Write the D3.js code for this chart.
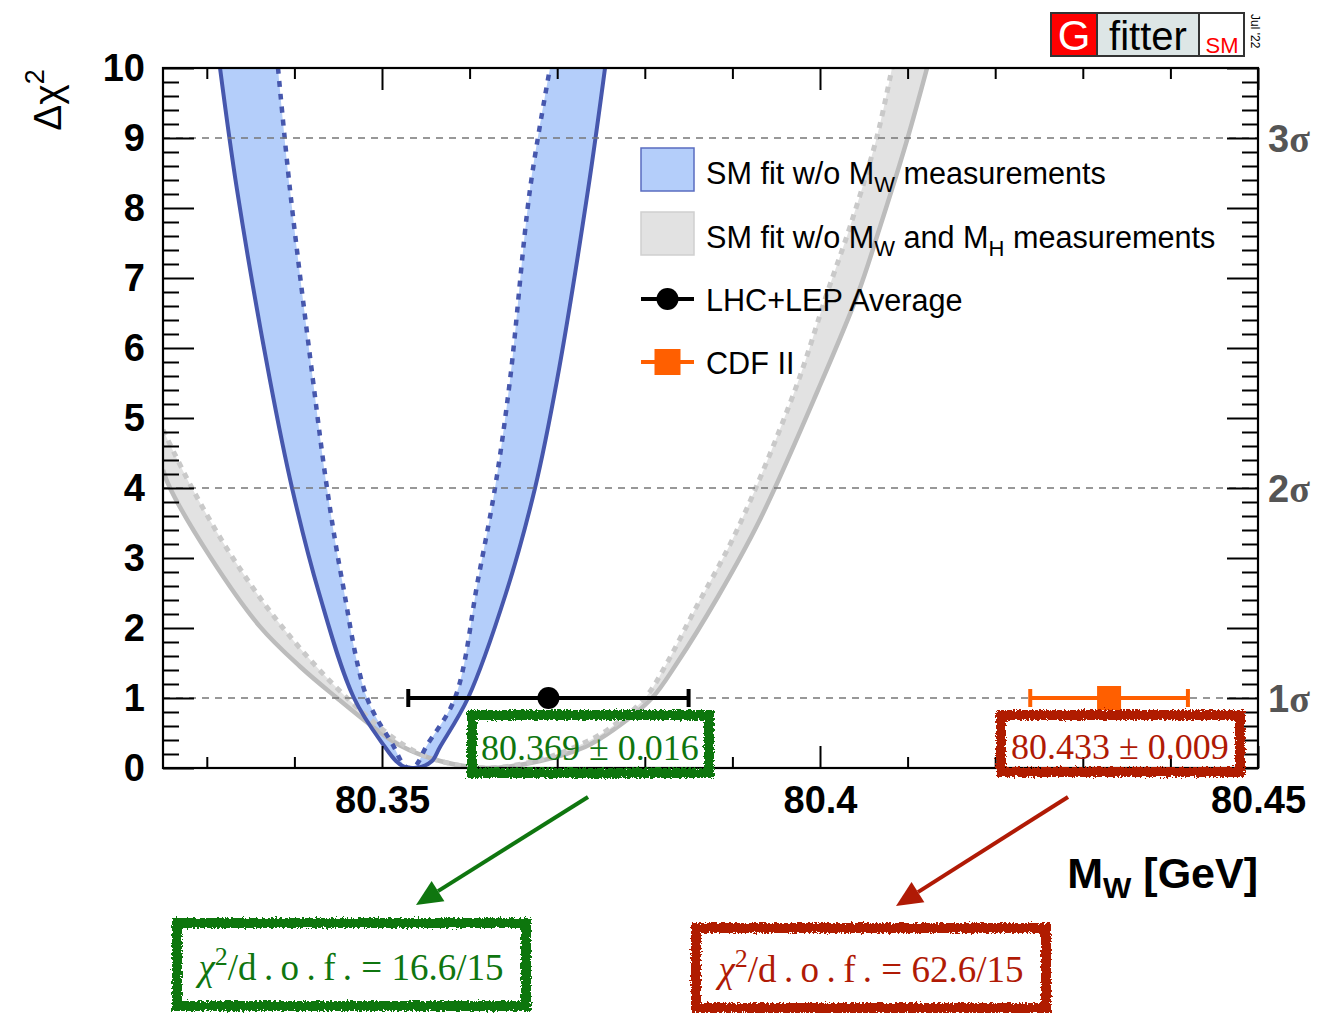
<!DOCTYPE html>
<html>
<head>
<meta charset="utf-8">
<script src="https://cdn.jsdelivr.net/npm/d3@7"></script>
<style>
  body { margin: 0; background: #fff; }
  svg { display: block; }
</style>
</head>
<body>
<svg id="chart" width="1319" height="1013"></svg>
<script>
// ---- Δχ² profiles as a function of M_W (GeV) ----

// SM fit without M_W measurements: outer (solid) profile
const blueSolidMW   = [80.33151, 80.33345, 80.33721, 80.33973, 80.34281, 80.34680, 80.35034, 80.35160, 80.35251, 80.35354,
                       80.35457, 80.35571, 80.35662, 80.35982, 80.36416, 80.36747, 80.36998, 80.37352, 80.37546];
const blueSolidChi2 = [10.0, 8.26, 5.54, 4.0, 2.5, 1.0, 0.3, 0.1, 0.02, 0.0,
                       0.02, 0.1, 0.3, 1.0, 2.5, 4.0, 5.54, 8.26, 10.0];

// SM fit without M_W measurements: inner (dotted) profile
const blueDotMW   = [80.33813, 80.33950, 80.34212, 80.34372, 80.34543, 80.34829, 80.35137, 80.35217, 80.35263, 80.35320,
                     80.35377, 80.35422, 80.35502, 80.35833, 80.36096, 80.36290, 80.36461, 80.36689, 80.36918];
const blueDotChi2 = [10.0, 8.26, 5.54, 4.0, 2.69, 1.0, 0.3, 0.1, 0.025, 0.0,
                     0.025, 0.1, 0.3, 1.0, 2.69, 4.0, 5.54, 8.26, 10.0];

// SM fit without M_W and M_H measurements: outer (solid) profile
const graySolidMW   = [80.32500, 80.32580, 80.33037, 80.33607, 80.34064, 80.34486, 80.34863, 80.35206, 80.35662,
                       80.36199, 80.36804, 80.37317, 80.37637, 80.38082, 80.38368, 80.38836, 80.39315, 80.39977,
                       80.40434, 80.40685, 80.41005, 80.41222];
const graySolidChi2 = [4.26, 4.0, 3.02, 2.02, 1.45, 1.0, 0.62, 0.32, 0.1,
                       0.0, 0.1, 0.3, 0.54, 1.0, 1.5, 2.45, 3.55, 5.4,
                       6.78, 7.73, 9.02, 10.0];

// SM fit without M_W and M_H measurements: inner (dotted) profile
const grayDotMW   = [80.32500, 80.32831, 80.33288, 80.33858, 80.34601, 80.35285, 80.35719, 80.36199,
                     80.36747, 80.37203, 80.37569, 80.38002, 80.38253, 80.38550, 80.39053, 80.39715,
                     80.40080, 80.40342, 80.40651, 80.40822];
const grayDotChi2 = [4.83, 4.0, 3.02, 2.02, 1.0, 0.3, 0.08, 0.0,
                     0.1, 0.3, 0.54, 1.0, 1.5, 2.21, 3.4, 5.4,
                     6.78, 7.73, 9.02, 10.0];

// Direct measurements
const measNames  = ["LHC+LEP Average", "CDF II"];
const measValues = [80.369, 80.433];
const measErrors = [0.016, 0.009];
const measLabels = ["80.369 \u00b1 0.016", "80.433 \u00b1 0.009"];
const chi2Ndf    = ["16.6/15", "62.6/15"];

// Axis ticks and labels
const xMajorTicks  = [80.35, 80.40, 80.45];
const xTickLabels  = ["80.35", "80.4", "80.45"];
const xMinorTicks  = [80.33, 80.34, 80.36, 80.37, 80.38, 80.39, 80.41, 80.42, 80.43, 80.44];
const yMajorTicks  = [0, 1, 2, 3, 4, 5, 6, 7, 8, 9, 10];
const yMinorTicks  = d3.range(0, 50).map(i => i / 5).filter(v => v % 1 !== 0);
const sigmaLevels  = [1, 4, 9];
const sigmaNames   = ["1", "2", "3"];

// ---- layout ----
const svg = d3.select("#chart");
const X0 = 163, X1 = 1258, Y0 = 68, Y1 = 768;
const x = d3.scaleLinear().domain([80.325, 80.45]).range([X0, X1]);
const y = d3.scaleLinear().domain([0, 10]).range([Y1, Y0]);

const SANS = "'Liberation Sans', Arial, Helvetica, sans-serif";
const SERIF = "'Liberation Serif', 'Times New Roman', serif";

const BLUE_FILL = "#b4cefa", BLUE_LINE = "#4657ad";
const GRAY_FILL = "#e2e2e2", GRAY_LINE = "#bcbcbc", GRAY_DOT = "#c9c9c9";
const GREEN = "#0f760f", RED = "#b01a05", ORANGE = "#ff5f00";

svg.append("rect").attr("width", 1319).attr("height", 1013).attr("fill", "#fff");

const defs = svg.append("defs");
defs.append("clipPath").attr("id", "plotClip")
  .append("rect").attr("x", X0).attr("y", Y0).attr("width", X1 - X0).attr("height", Y1 - Y0);

// rough chalk-like border for the annotation boxes
const rough = defs.append("filter").attr("id", "rough")
  .attr("x", "-10%").attr("y", "-30%").attr("width", "120%").attr("height", "160%");
rough.append("feTurbulence").attr("type", "fractalNoise").attr("baseFrequency", 0.45)
  .attr("numOctaves", 3).attr("seed", 7).attr("result", "noise");
rough.append("feDisplacementMap").attr("in", "SourceGraphic").attr("in2", "noise")
  .attr("scale", 6).attr("xChannelSelector", "R").attr("yChannelSelector", "G");

const zip = (xs, ys) => xs.map((v, i) => [v, ys[i]]);
const line = d3.line().x(d => x(d[0])).y(d => y(d[1])).curve(d3.curveCatmullRom.alpha(0.5));

function bandPath(outer, inner) {
  const a = line(outer);
  const b = line(inner.slice().reverse());
  return a + "L" + b.slice(1) + "Z";
}

const plot = svg.append("g").attr("clip-path", "url(#plotClip)");

const graySolid = zip(graySolidMW, graySolidChi2);
const grayDot = zip(grayDotMW, grayDotChi2);
const blueSolid = zip(blueSolidMW, blueSolidChi2);
const blueDot = zip(blueDotMW, blueDotChi2);

// bands
plot.append("path").attr("d", bandPath(graySolid, grayDot)).attr("fill", GRAY_FILL);
plot.append("path").attr("d", bandPath(blueSolid, blueDot)).attr("fill", BLUE_FILL);

// gray boundary curves
plot.append("path").attr("d", line(graySolid)).attr("fill", "none")
  .attr("stroke", GRAY_LINE).attr("stroke-width", 4.5);
plot.append("path").attr("d", line(grayDot)).attr("fill", "none")
  .attr("stroke", GRAY_DOT).attr("stroke-width", 5).attr("stroke-dasharray", "6,6");

// blue boundary curves
plot.append("path").attr("d", line(blueSolid)).attr("fill", "none")
  .attr("stroke", BLUE_LINE).attr("stroke-width", 4);
plot.append("path").attr("d", line(blueDot)).attr("fill", "none")
  .attr("stroke", BLUE_LINE).attr("stroke-width", 4.5).attr("stroke-dasharray", "6,7");

// n-sigma reference lines
plot.selectAll("line.sig").data(sigmaLevels).join("line")
  .attr("x1", X0).attr("x2", X1)
  .attr("y1", d => y(d)).attr("y2", d => y(d))
  .attr("stroke", "#777").attr("stroke-width", 1.6).attr("stroke-dasharray", "7,6");

// ---- axes (ticks drawn inward on all four sides) ----
function styleAxis(g) {
  g.select(".domain").remove();
  g.selectAll(".tick line").attr("stroke", "#000").attr("stroke-width", 2);
  g.selectAll(".tick text").attr("font-family", SANS).attr("font-weight", "bold")
    .attr("font-size", 38).attr("fill", "#000");
}

svg.append("g").attr("transform", `translate(0,${Y1})`)
  .call(d3.axisBottom(x).tickValues(xMinorTicks).tickSize(-11).tickSizeOuter(0).tickFormat(""))
  .call(styleAxis);
svg.append("g").attr("transform", `translate(0,${Y1})`)
  .call(d3.axisBottom(x).tickValues(xMajorTicks).tickSize(-22).tickSizeOuter(0).tickPadding(18)
        .tickFormat((d, i) => xTickLabels[i]))
  .call(styleAxis);
svg.append("g").attr("transform", `translate(0,${Y0})`)
  .call(d3.axisTop(x).tickValues(xMinorTicks).tickSize(-11).tickSizeOuter(0).tickFormat(""))
  .call(styleAxis);
svg.append("g").attr("transform", `translate(0,${Y0})`)
  .call(d3.axisTop(x).tickValues(xMajorTicks).tickSize(-22).tickSizeOuter(0).tickFormat(""))
  .call(styleAxis);

svg.append("g").attr("transform", `translate(${X0},0)`)
  .call(d3.axisLeft(y).tickValues(yMinorTicks).tickSize(-16).tickSizeOuter(0).tickFormat(""))
  .call(styleAxis);
svg.append("g").attr("transform", `translate(${X0},0)`)
  .call(d3.axisLeft(y).tickValues(yMajorTicks).tickSize(-31).tickSizeOuter(0).tickPadding(18)
        .tickFormat(d3.format("d")))
  .call(styleAxis);
svg.append("g").attr("transform", `translate(${X1},0)`)
  .call(d3.axisRight(y).tickValues(yMinorTicks).tickSize(-16).tickSizeOuter(0).tickFormat(""))
  .call(styleAxis);
svg.append("g").attr("transform", `translate(${X1},0)`)
  .call(d3.axisRight(y).tickValues(yMajorTicks).tickSize(-31).tickSizeOuter(0).tickFormat(""))
  .call(styleAxis);

// frame
svg.append("rect").attr("x", X0).attr("y", Y0).attr("width", X1 - X0).attr("height", Y1 - Y0)
  .attr("fill", "none").attr("stroke", "#000").attr("stroke-width", 2.2);

// n-sigma labels on the right
const sigG = svg.append("g");
sigmaLevels.forEach((lv, i) => {
  const t = sigG.append("text").attr("x", X1 + 10).attr("y", y(lv) + 14)
    .attr("font-family", SANS).attr("font-weight", "bold").attr("font-size", 38).attr("fill", "#555");
  t.append("tspan").text(sigmaNames[i]);
  t.append("tspan").attr("font-family", SERIF).attr("font-weight", "bold").text("\u03c3");
});

// axis titles
const yTitle = svg.append("text")
  .attr("transform", `translate(61,100) rotate(-90)`)
  .attr("text-anchor", "middle").attr("font-family", SANS).attr("font-size", 39).attr("fill", "#000");
yTitle.append("tspan").text("\u0394\u03c7");
yTitle.append("tspan").attr("font-size", 27).attr("dy", -17).text("2");

const xTitle = svg.append("text").attr("x", X1).attr("y", 888).attr("text-anchor", "end")
  .attr("font-family", SANS).attr("font-weight", "bold").attr("font-size", 43).attr("fill", "#000");
xTitle.append("tspan").text("M");
xTitle.append("tspan").attr("font-size", 30).attr("dy", 10).text("W");
xTitle.append("tspan").attr("dy", -10).text(" [GeV]");

// ---- measurements ----
const cy = y(1);
const measColors = ["#000", ORANGE];
measValues.forEach((v, i) => {
  const g = svg.append("g").attr("stroke", measColors[i]).attr("fill", measColors[i]);
  const lo = x(v - measErrors[i]), hi = x(v + measErrors[i]);
  g.append("line").attr("x1", lo).attr("x2", hi).attr("y1", cy).attr("y2", cy).attr("stroke-width", 4);
  g.append("line").attr("x1", lo).attr("x2", lo).attr("y1", cy - 9).attr("y2", cy + 9).attr("stroke-width", 4);
  g.append("line").attr("x1", hi).attr("x2", hi).attr("y1", cy - 9).attr("y2", cy + 9).attr("stroke-width", 4);
  if (i === 0) {
    g.append("circle").attr("cx", x(v)).attr("cy", cy).attr("r", 11).attr("stroke", "none");
  } else {
    g.append("rect").attr("x", x(v) - 12).attr("y", cy - 12).attr("width", 24).attr("height", 24).attr("stroke", "none");
  }
});

// ---- legend ----
const leg = svg.append("g").attr("font-family", SANS).attr("font-size", 30.6).attr("fill", "#000");
const LX = 641, LW = 53, LH = 43, TX = 706;
leg.append("rect").attr("x", LX).attr("y", 148).attr("width", LW).attr("height", LH)
  .attr("fill", BLUE_FILL).attr("stroke", "#5a6cc0").attr("stroke-width", 1.5);
leg.append("rect").attr("x", LX).attr("y", 212).attr("width", LW).attr("height", LH)
  .attr("fill", GRAY_FILL).attr("stroke", "#cfcfcf").attr("stroke-width", 1.5);
leg.append("line").attr("x1", LX).attr("x2", LX + LW).attr("y1", 299).attr("y2", 299)
  .attr("stroke", "#000").attr("stroke-width", 4);
leg.append("circle").attr("cx", LX + LW / 2).attr("cy", 299).attr("r", 11).attr("fill", "#000");
leg.append("line").attr("x1", LX).attr("x2", LX + LW).attr("y1", 362).attr("y2", 362)
  .attr("stroke", ORANGE).attr("stroke-width", 4);
leg.append("rect").attr("x", LX + LW / 2 - 13).attr("y", 349).attr("width", 26).attr("height", 26).attr("fill", ORANGE);

// text with subscripts: parts alternate plain strings and {sub} objects
function legText(yb, parts) {
  const t = leg.append("text").attr("x", TX).attr("y", yb);
  let shifted = false;
  parts.forEach(p => {
    if (typeof p === "string") {
      t.append("tspan").attr("dy", shifted ? -8 : 0).text(p);
      shifted = false;
    } else {
      t.append("tspan").attr("font-size", 22).attr("dy", 8).text(p.sub);
      shifted = true;
    }
  });
  return t;
}
legText(184, ["SM fit w/o M", {sub: "W"}, " measurements"]);
legText(248, ["SM fit w/o M", {sub: "W"}, " and M", {sub: "H"}, " measurements"]);
leg.append("text").attr("x", TX).attr("y", 311).text(measNames[0]);
leg.append("text").attr("x", TX).attr("y", 374).text(measNames[1]);

// ---- annotation boxes and arrows ----
function roughBox(x0, y0, w, h, color) {
  svg.append("rect").attr("x", x0).attr("y", y0).attr("width", w).attr("height", h)
    .attr("fill", "none").attr("stroke", color).attr("stroke-width", 10).attr("filter", "url(#rough)");
}
function arrow(xa, ya, xb, yb, color) {
  const ang = Math.atan2(yb - ya, xb - xa), L = 26, W = 12;
  const bx = xb - L * Math.cos(ang), by = yb - L * Math.sin(ang);
  svg.append("line").attr("x1", xa).attr("y1", ya).attr("x2", bx).attr("y2", by)
    .attr("stroke", color).attr("stroke-width", 4);
  const px = -Math.sin(ang) * W, py = Math.cos(ang) * W;
  svg.append("polygon")
    .attr("points", `${xb},${yb} ${bx + px},${by + py} ${bx - px},${by - py}`)
    .attr("fill", color);
}
function chi2Text(cx, yb, color, val) {
  const t = svg.append("text").attr("x", cx).attr("y", yb).attr("text-anchor", "middle")
    .attr("font-family", SERIF).attr("font-size", 37).attr("fill", color);
  t.append("tspan").attr("font-style", "italic").text("\u03c7");
  t.append("tspan").attr("font-size", 26).attr("dy", -15).text("2");
  t.append("tspan").attr("dy", 15).text("/d\u2009.\u2009o\u2009.\u2009f\u2009. = " + val);
}

roughBox(472, 715, 237, 58, GREEN);
svg.append("text").attr("x", 590).attr("y", 760).attr("text-anchor", "middle")
  .attr("font-family", SERIF).attr("font-size", 36).attr("fill", GREEN).text(measLabels[0]);

roughBox(1001, 715, 239, 57, RED);
svg.append("text").attr("x", 1120).attr("y", 759).attr("text-anchor", "middle")
  .attr("font-family", SERIF).attr("font-size", 36).attr("fill", RED).text(measLabels[1]);

arrow(588, 797, 416, 905, GREEN);
arrow(1068, 797, 896, 906, RED);

roughBox(177, 923, 349, 83, GREEN);
chi2Text(351, 980, GREEN, chi2Ndf[0]);
roughBox(696, 928, 350, 80, RED);
chi2Text(871, 982, RED, chi2Ndf[1]);

// ---- Gfitter logo ----
const logo = svg.append("g").attr("font-family", SANS);
logo.append("rect").attr("x", 1051).attr("y", 13).attr("width", 46).attr("height", 43).attr("fill", "#ff0000");
logo.append("rect").attr("x", 1097).attr("y", 13).attr("width", 102).attr("height", 43).attr("fill", "#dde6e6");
logo.append("rect").attr("x", 1199).attr("y", 13).attr("width", 45).attr("height", 43).attr("fill", "#fff");
logo.append("rect").attr("x", 1051).attr("y", 13).attr("width", 193).attr("height", 43)
  .attr("fill", "none").attr("stroke", "#333").attr("stroke-width", 2);
logo.append("line").attr("x1", 1097).attr("x2", 1097).attr("y1", 13).attr("y2", 56).attr("stroke", "#333").attr("stroke-width", 2);
logo.append("line").attr("x1", 1199).attr("x2", 1199).attr("y1", 13).attr("y2", 56).attr("stroke", "#333").attr("stroke-width", 2);
logo.append("text").attr("x", 1074).attr("y", 50).attr("text-anchor", "middle")
  .attr("font-size", 42).attr("fill", "#fff").text("G");
logo.append("text").attr("x", 1148).attr("y", 50).attr("text-anchor", "middle")
  .attr("font-size", 40).attr("fill", "#000").text("fitter");
logo.append("text").attr("x", 1222).attr("y", 53).attr("text-anchor", "middle")
  .attr("font-size", 22).attr("fill", "#f00").text("SM");
logo.append("text").attr("transform", "translate(1251,14) rotate(90)")
  .attr("font-size", 12).attr("fill", "#000").text("Jul '22");
</script>
</body>
</html>
